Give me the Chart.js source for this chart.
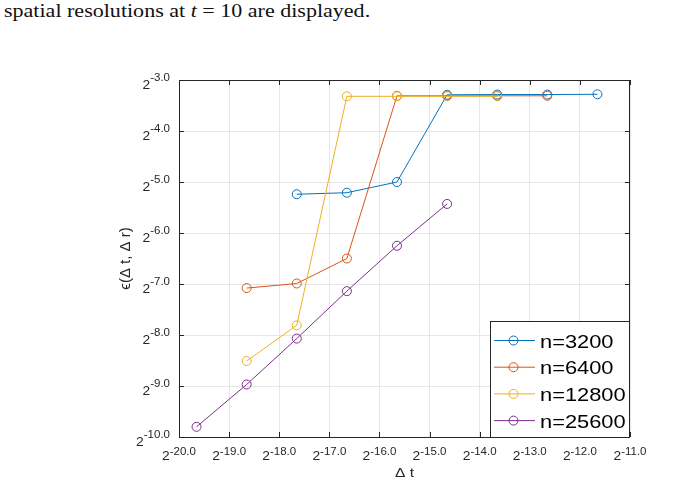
<!DOCTYPE html>
<html>
<head>
<meta charset="utf-8">
<script src="https://cdn.jsdelivr.net/npm/chart.js@4.4.0/dist/chart.umd.min.js"></script>
<style>
  body { margin: 0; background: #fff; }
  #wrap { position: relative; width: 685px; height: 485px; overflow: hidden; }
  #caption { position: absolute; left: 4px; top: 0px; font-family: "Liberation Serif", "DejaVu Serif", serif; font-size: 19.5px; color: #111; white-space: nowrap; transform: scaleX(1.13); transform-origin: left top; }
  #c { position: absolute; left: 0; top: 0; }
</style>
</head>
<body>
<div id="wrap">
  <div id="caption">spatial resolutions at <i>t</i> = 10 are displayed.</div>
  <canvas id="c" width="685" height="485"></canvas>
</div>
<script>
// log2 of the time step, one entry per column of points
const dtExp = [-19.65, -18.65, -17.65, -16.65, -15.65, -14.65, -13.65, -12.65, -11.65];

// log2 of the error, null where a resolution has no point
const err3200  = [null, null, -5.24, -5.21, -5.00, -3.29, -3.285, -3.285, -3.28];
const err6400  = [null, -7.08, -6.99, -6.50, -3.31, -3.31, -3.31, -3.31, null];
const err12800 = [null, -8.51, -7.81, -3.32, -3.32, -3.32, -3.32, null, null];
const err25600 = [-9.80, -8.97, -8.07, -7.14, -6.25, -5.43, null, null, null];

const seriesNames = ['n=3200', 'n=6400', 'n=12800', 'n=25600'];
const seriesColors = ['#0072BD', '#D95319', '#EDB120', '#7E2F8E'];

const xTicks = [-20, -19, -18, -17, -16, -15, -14, -13, -12, -11];
const yTicks = [-10, -9, -8, -7, -6, -5, -4, -3];

function toPoints(vals) {
  const pts = [];
  vals.forEach((v, i) => { if (v !== null) pts.push({x: dtExp[i], y: v}); });
  return pts;
}

const allSeries = [err3200, err6400, err12800, err25600];
const datasets = allSeries.map((s, i) => ({
  label: seriesNames[i],
  data: toPoints(s),
  borderColor: seriesColors[i],
  backgroundColor: seriesColors[i],
  borderWidth: 1,
  pointRadius: 4.5,
  pointHoverRadius: 4.5,
  pointBorderWidth: 1,
  pointBackgroundColor: 'rgba(0,0,0,0)',
  pointBorderColor: seriesColors[i],
  tension: 0,
  order: 4 - i
}));

const FONT = '"Liberation Sans", Arial, sans-serif';
const SX = 1.15; // labels in the figure look a bit wide

function stretchedText(ctx, txt, x, y, size) {
  ctx.save();
  ctx.font = size + 'px ' + FONT;
  ctx.translate(x, y);
  ctx.scale(SX, 1);
  ctx.fillText(txt, 0, 0);
  ctx.restore();
}
function textW(ctx, txt, size) {
  ctx.save();
  ctx.font = size + 'px ' + FONT;
  const w = ctx.measureText(txt).width * SX;
  ctx.restore();
  return w;
}
function powLabel(v) { return v.toFixed(1); }

const axesPlugin = {
  id: 'axesDeco',
  afterDatasetsDraw(chart) {
    const {ctx, chartArea: a, scales} = chart;
    const x = scales.x, y = scales.y;
    ctx.save();
    ctx.strokeStyle = '#262626';
    ctx.lineWidth = 1;
    // box
    ctx.strokeRect(Math.round(a.left) + 0.5, Math.round(a.top) + 0.5,
                   Math.round(a.width) - 1, Math.round(a.height));
    // inward ticks
    ctx.beginPath();
    xTicks.forEach(t => {
      const px = Math.round(x.getPixelForValue(t)) + 0.5;
      ctx.moveTo(px, a.bottom); ctx.lineTo(px, a.bottom - 5);
      ctx.moveTo(px, a.top); ctx.lineTo(px, a.top + 5);
    });
    yTicks.forEach(t => {
      const py = Math.round(y.getPixelForValue(t)) + 0.5;
      ctx.moveTo(a.left, py); ctx.lineTo(a.left + 5, py);
      ctx.moveTo(a.right, py); ctx.lineTo(a.right - 5, py);
    });
    ctx.stroke();

    ctx.fillStyle = '#262626';
    ctx.textBaseline = 'alphabetic';
    ctx.textAlign = 'left';
    // x tick labels
    xTicks.forEach(t => {
      const px = x.getPixelForValue(t);
      const e = powLabel(t);
      const w2 = textW(ctx, '2', 12), we = textW(ctx, e, 10);
      const x0 = px - (w2 + we) / 2;
      stretchedText(ctx, '2', x0, a.bottom + 23, 12);
      stretchedText(ctx, e, x0 + w2, a.bottom + 18, 10);
    });
    // y tick labels
    yTicks.forEach(t => {
      const py = y.getPixelForValue(t);
      const e = powLabel(t);
      const w2 = textW(ctx, '2', 12), we = textW(ctx, e, 10);
      const xr = a.left - 9;
      stretchedText(ctx, '2', xr - we - w2, py + 9, 12);
      stretchedText(ctx, e, xr - we, py + 1, 10);
    });
    // axis titles
    const xt = '\u0394 t';
    const wxt = textW(ctx, xt, 13.5);
    stretchedText(ctx, xt, (a.left + a.right) / 2 - wxt / 2, a.bottom + 40, 13.5);

    ctx.save();
    ctx.translate(130, (a.top + a.bottom) / 2);
    ctx.rotate(-Math.PI / 2);
    ctx.font = '15px ' + FONT;
    ctx.textAlign = 'center';
    ctx.fillText('\u03f5(\u0394 t, \u0394 r)', 0, 0);
    ctx.restore();
    ctx.restore();
  }
};

const legendPlugin = {
  id: 'boxLegend',
  afterDraw(chart) {
    const {ctx, chartArea: a} = chart;
    const L = 490, T = 321, R = Math.round(a.right), B = Math.round(a.bottom);
    ctx.save();
    ctx.fillStyle = '#fff';
    ctx.fillRect(L, T, R - L, B - T);
    ctx.strokeStyle = '#262626';
    ctx.lineWidth = 1;
    ctx.strokeRect(L + 0.5, T + 0.5, R - L - 1, B - T);
    chart.data.datasets.forEach((ds, i) => {
      const yy = T + 19.5 + i * 26.7;
      ctx.strokeStyle = ds.borderColor;
      ctx.beginPath();
      ctx.moveTo(L + 4, yy); ctx.lineTo(L + 45, yy);
      ctx.stroke();
      ctx.beginPath();
      ctx.arc(L + 23.5, yy, 4.5, 0, Math.PI * 2);
      ctx.stroke();
      ctx.fillStyle = '#000';
      stretchedText(ctx, ds.label, L + 50, yy + 7, 19);
    });
    ctx.restore();
  }
};

new Chart(document.getElementById('c'), {
  type: 'line',
  data: { datasets: datasets },
  options: {
    responsive: false,
    animation: false,
    events: [],
    layout: { padding: { left: 179, right: 55, top: 80, bottom: 48 } },
    plugins: { legend: { display: false }, tooltip: { enabled: false } },
    scales: {
      x: {
        type: 'linear', min: -20, max: -11,
        ticks: { display: false, stepSize: 1 },
        grid: { color: '#e6e6e6', lineWidth: 1, drawTicks: false },
        border: { display: false }
      },
      y: {
        type: 'linear', min: -10, max: -3,
        ticks: { display: false, stepSize: 1 },
        grid: { color: '#e6e6e6', lineWidth: 1, drawTicks: false },
        border: { display: false }
      }
    }
  },
  plugins: [axesPlugin, legendPlugin]
});
</script>
</body>
</html>
